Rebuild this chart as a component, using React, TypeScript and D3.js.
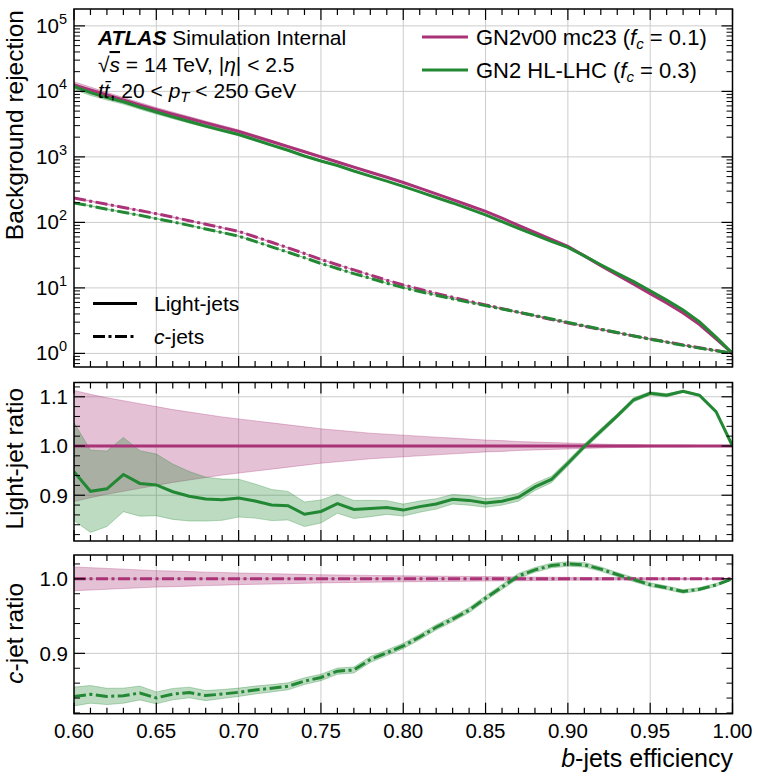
import React from 'react';
import * as d3 from 'd3';

// ---------------- data ----------------
const eff = [0.60, 0.61, 0.62, 0.63, 0.64, 0.65, 0.66, 0.67, 0.68, 0.69, 0.70, 0.71, 0.72, 0.73, 0.74, 0.75, 0.76, 0.77, 0.78, 0.79, 0.80, 0.81, 0.82, 0.83, 0.84, 0.85, 0.86, 0.87, 0.88, 0.89, 0.90, 0.91, 0.92, 0.93, 0.94, 0.95, 0.96, 0.97, 0.98, 0.99, 1.00];

// GN2v00 mc23 (reference)
const lightRejRef = [12589, 10520, 8810, 7380, 6210, 5250, 4500, 3860, 3310, 2850, 2455, 2056, 1718, 1435, 1197, 1000, 836, 698, 583, 488, 407, 333, 272, 222, 181, 147, 116, 90.2, 70.1, 55.0, 43.1, 30.8, 21.9, 15.7, 11.4, 8.18, 5.89, 4.15, 2.75, 1.66, 1.00];
const cRejRef = [235.5, 210.9, 188.8, 169.0, 151.4, 135.8, 120.2, 106.2, 93.8, 82.8, 72.9, 60.3, 49.7, 40.9, 33.5, 27.2, 22.6, 18.8, 15.7, 13.1, 11.1, 9.55, 8.26, 7.18, 6.28, 5.50, 4.83, 4.24, 3.74, 3.30, 2.92, 2.59, 2.31, 2.07, 1.85, 1.66, 1.50, 1.35, 1.22, 1.11, 1.00];

// GN2 HL-LHC
const lightRejNew = [11934, 9552, 8044, 6952, 5738, 4835, 4082, 3466, 2953, 2539, 2195, 1826, 1512, 1261, 1031, 867, 738, 608, 509, 427, 354, 292, 240, 198, 161, 130, 103, 80.82, 64.28, 51.26, 41.59, 30.77, 22.56, 16.66, 12.47, 9.055, 6.497, 4.611, 3.033, 1.776, 1.00];
const cRejNew = [198.3, 178.2, 159.0, 142.5, 128.2, 114.1, 101.6, 90.0, 79.1, 70.0, 61.8, 51.3, 42.4, 35.0, 28.9, 23.6, 19.8, 16.5, 14.0, 11.8, 10.1, 8.805, 7.723, 6.792, 6.016, 5.357, 4.777, 4.257, 3.785, 3.359, 2.978, 2.639, 2.340, 2.082, 1.848, 1.647, 1.482, 1.327, 1.203, 1.101, 1.00];

// relative statistical uncertainties
const lightErrRef = [0.113, 0.105, 0.098, 0.092, 0.086, 0.080, 0.074, 0.069, 0.064, 0.059, 0.055, 0.051, 0.047, 0.043, 0.039, 0.035, 0.032, 0.029, 0.026, 0.024, 0.022, 0.020, 0.018, 0.016, 0.014, 0.012, 0.011, 0.009, 0.008, 0.007, 0.006, 0.005, 0.004, 0.003, 0.003, 0.002, 0.002, 0.002, 0.001, 0.001, 0.0];
const lightErrNew = [0.105, 0.092, 0.084, 0.080, 0.072, 0.068, 0.062, 0.056, 0.050, 0.047, 0.043, 0.039, 0.036, 0.033, 0.029, 0.027, 0.022, 0.021, 0.019, 0.016, 0.014, 0.013, 0.012, 0.011, 0.011, 0.010, 0.009, 0.009, 0.008, 0.007, 0.006, 0.005, 0.005, 0.004, 0.004, 0.003, 0.003, 0.002, 0.002, 0.001, 0.0];
const cErrRef = [0.016, 0.015, 0.014, 0.013, 0.012, 0.011, 0.0105, 0.0098, 0.009, 0.0085, 0.0078, 0.0074, 0.007, 0.0065, 0.006, 0.0055, 0.0052, 0.0049, 0.0046, 0.0043, 0.004, 0.0038, 0.0036, 0.0034, 0.0032, 0.003, 0.0028, 0.0026, 0.0024, 0.0022, 0.002, 0.0019, 0.0018, 0.0017, 0.0016, 0.0015, 0.0014, 0.0012, 0.001, 0.0008, 0.0];
const cErrNew = [0.015, 0.014, 0.013, 0.012, 0.011, 0.0095, 0.009, 0.0085, 0.008, 0.0072, 0.0066, 0.0062, 0.0058, 0.0055, 0.0052, 0.005, 0.0048, 0.0046, 0.0044, 0.0042, 0.004, 0.0039, 0.0038, 0.0037, 0.0036, 0.0035, 0.0034, 0.0033, 0.0032, 0.0031, 0.003, 0.003, 0.0029, 0.0028, 0.0027, 0.0026, 0.0025, 0.0024, 0.0022, 0.002, 0.0];

const xTickValues = [0.60, 0.65, 0.70, 0.75, 0.80, 0.85, 0.90, 0.95, 1.00];
const xTickLabels = ['0.60', '0.65', '0.70', '0.75', '0.80', '0.85', '0.90', '0.95', '1.00'];
const topExponents = [0, 1, 2, 3, 4, 5];
const midTicks = [0.9, 1.0, 1.1];
const midTickLabels = ['0.9', '1.0', '1.1'];
const botTicks = [0.9, 1.0];
const botTickLabels = ['0.9', '1.0'];

const seriesNames = ['GN2v00 mc23', 'GN2 HL-LHC'];
const seriesFc = ['0.1', '0.3'];

// ---------------- style ----------------
const MAG = '#AA3377';
const GRN = '#228833';
const FONT = '"Liberation Sans", Arial, Helvetica, sans-serif';
const GRID = '#cccccc';
const DASHDOT = '12,3.5,3,3.5';

const X0 = 74, X1 = 732.5;
const P1 = { top: 9, bottom: 367 };
const P2 = { top: 382.5, bottom: 541 };
const P3 = { top: 555, bottom: 713.7 };

export default function App() {
  const x = d3.scaleLinear().domain([0.6, 1.0]).range([X0, X1]);
  const yTop = d3.scaleLog().domain([0.62, 181000]).range([P1.bottom, P1.top]);
  const yMid = d3.scaleLinear().domain([0.807, 1.129]).range([P2.bottom, P2.top]);
  const yBot = d3.scaleLinear().domain([0.819, 1.032]).range([P3.bottom, P3.top]);

  const lightRatio = lightRejNew.map((v, i) => v / lightRejRef[i]);
  const cRatio = cRejNew.map((v, i) => v / cRejRef[i]);
  const ones = eff.map(() => 1);

  const line = (vals: number[], ys: any) =>
    d3.line<number>().x((_, i) => x(eff[i])).y((d) => ys(d))(vals) || '';
  const band = (vals: number[], errs: number[], ys: any) =>
    d3
      .area<number>()
      .x((_, i) => x(eff[i]))
      .y0((d, i) => ys(d * (1 - errs[i])))
      .y1((d, i) => ys(d * (1 + errs[i])))(vals) || '';

  const xMinor = d3.range(60, 101).map((i) => i / 100);

  const frameTicks = (top: number, bottom: number, yMajor: number[], yMinor: number[], key: string) => {
    const els: any[] = [];
    xMinor.forEach((v, i) => {
      const major = i % 5 === 0;
      const L = major ? 11 : 6;
      const px = x(v);
      els.push(<line key={`${key}xb${i}`} x1={px} x2={px} y1={bottom} y2={bottom - L} stroke="#000" strokeWidth={1.2} />);
      els.push(<line key={`${key}xt${i}`} x1={px} x2={px} y1={top} y2={top + L} stroke="#000" strokeWidth={1.2} />);
    });
    yMajor.forEach((py, i) => {
      els.push(<line key={`${key}yl${i}`} x1={X0} x2={X0 + 11} y1={py} y2={py} stroke="#000" strokeWidth={1.2} />);
      els.push(<line key={`${key}yr${i}`} x1={X1} x2={X1 - 11} y1={py} y2={py} stroke="#000" strokeWidth={1.2} />);
    });
    yMinor.forEach((py, i) => {
      els.push(<line key={`${key}ml${i}`} x1={X0} x2={X0 + 6} y1={py} y2={py} stroke="#000" strokeWidth={1} />);
      els.push(<line key={`${key}mr${i}`} x1={X1} x2={X1 - 6} y1={py} y2={py} stroke="#000" strokeWidth={1} />);
    });
    return els;
  };

  const gridX = (top: number, bottom: number, key: string) =>
    xTickValues.slice(1, -1).map((v, i) => (
      <line key={`${key}gx${i}`} x1={x(v)} x2={x(v)} y1={top} y2={bottom} stroke={GRID} strokeWidth={1} />
    ));

  // top panel ticks
  const topMajorY = topExponents.map((e) => yTop(Math.pow(10, e)));
  const topMinorY: number[] = [];
  for (let e = -1; e <= 5; e++) {
    for (let k = 2; k <= 9; k++) {
      const v = k * Math.pow(10, e);
      const py = yTop(v);
      if (py > P1.top + 0.5 && py < P1.bottom - 0.5) topMinorY.push(py);
    }
  }
  const midMinorY = d3.range(82, 113, 2).map((v) => v / 100).filter((v) => Math.abs(v * 10 - Math.round(v * 10)) > 1e-6).map((v) => yMid(v));
  const botMinorY = d3.range(82, 104, 2).map((v) => v / 100).filter((v) => Math.abs(v * 10 - Math.round(v * 10)) > 1e-6).map((v) => yBot(v));

  return (
    <svg width={759} height={777} style={{ position: 'absolute', left: 0, top: 0, background: '#fff' }} fontFamily={FONT}>
      <defs>
        <clipPath id="c1"><rect x={X0} y={P1.top} width={X1 - X0} height={P1.bottom - P1.top} /></clipPath>
        <clipPath id="c2"><rect x={X0} y={P2.top} width={X1 - X0} height={P2.bottom - P2.top} /></clipPath>
        <clipPath id="c3"><rect x={X0} y={P3.top} width={X1 - X0} height={P3.bottom - P3.top} /></clipPath>
      </defs>
      <rect x={0} y={0} width={759} height={777} fill="#fff" />

      {/* ---------- top panel ---------- */}
      <g>
        {gridX(P1.top, P1.bottom, 't')}
        {topMajorY.map((py, i) => (
          <line key={`tgy${i}`} x1={X0} x2={X1} y1={py} y2={py} stroke={GRID} strokeWidth={1} />
        ))}
        <g clipPath="url(#c1)">
          <path d={band(lightRejRef, lightErrRef, yTop)} fill={MAG} fillOpacity={0.3} stroke={MAG} strokeOpacity={0.3} strokeWidth={1} />
          <path d={band(lightRejNew, lightErrNew, yTop)} fill={GRN} fillOpacity={0.3} stroke={GRN} strokeOpacity={0.3} strokeWidth={1} />
          <path d={band(cRejRef, cErrRef, yTop)} fill={MAG} fillOpacity={0.3} stroke={MAG} strokeOpacity={0.3} strokeWidth={1} />
          <path d={band(cRejNew, cErrNew, yTop)} fill={GRN} fillOpacity={0.3} stroke={GRN} strokeOpacity={0.3} strokeWidth={1} />
          <path d={line(lightRejRef, yTop)} fill="none" stroke={MAG} strokeWidth={3} />
          <path d={line(lightRejNew, yTop)} fill="none" stroke={GRN} strokeWidth={3} />
          <path d={line(cRejRef, yTop)} fill="none" stroke={MAG} strokeWidth={3} strokeDasharray={DASHDOT} />
          <path d={line(cRejNew, yTop)} fill="none" stroke={GRN} strokeWidth={3} strokeDasharray={DASHDOT} />
        </g>
        {frameTicks(P1.top, P1.bottom, topMajorY, topMinorY, 't')}
        <rect x={X0} y={P1.top} width={X1 - X0} height={P1.bottom - P1.top} fill="none" stroke="#000" strokeWidth={1.5} />
        {topExponents.map((e, i) => (
          <text key={`tl${i}`} x={67} y={topMajorY[i] + 7} textAnchor="end" fontSize={20.5}>
            10<tspan dy={-9} fontSize={14.5}>{e}</tspan>
          </text>
        ))}
        {/* ATLAS label */}
        <text x={98} y={45} fontSize={21}>
          <tspan fontWeight="bold" fontStyle="italic">ATLAS</tspan>
          <tspan> Simulation Internal</tspan>
        </text>
        <text x={98} y={72} fontSize={21}>
          <tspan>√</tspan>
          <tspan fontStyle="italic" style={{ textDecoration: 'overline' }}>s</tspan>
          <tspan> = 14 TeV, |</tspan>
          <tspan fontStyle="italic">η</tspan>
          <tspan>| &lt; 2.5</tspan>
        </text>
        <text x={98} y={98} fontSize={21}>
          <tspan fontStyle="italic">t{'t\u0304'}</tspan>
          <tspan>, 20 &lt; </tspan>
          <tspan fontStyle="italic">p</tspan>
          <tspan fontStyle="italic" fontSize={15} dy={4}>T</tspan>
          <tspan dy={-4}> &lt; 250 GeV</tspan>
        </text>
        {/* series legend */}
        {seriesNames.map((name, i) => {
          const ly = 37 + i * 33;
          return (
            <g key={`lg${i}`}>
              <line x1={422} x2={468} y1={ly} y2={ly} stroke={i === 0 ? MAG : GRN} strokeWidth={3} />
              <text x={476} y={ly + 7.5} fontSize={22}>
                <tspan>{name} (</tspan>
                <tspan fontStyle="italic">f</tspan>
                <tspan fontStyle="italic" fontSize={15} dy={4}>c</tspan>
                <tspan dy={-4}> = {seriesFc[i]})</tspan>
              </text>
            </g>
          );
        })}
        {/* flavour legend */}
        <line x1={93} x2={137} y1={303.5} y2={303.5} stroke="#000" strokeWidth={3} />
        <text x={154} y={311} fontSize={21}>Light-jets</text>
        <line x1={93} x2={137} y1={336.5} y2={336.5} stroke="#000" strokeWidth={3} strokeDasharray={DASHDOT} />
        <text x={154} y={344} fontSize={21}>
          <tspan fontStyle="italic">c</tspan>-jets
        </text>
        <text transform="translate(23,10) rotate(-90)" textAnchor="end" fontSize={24.5}>Background rejection</text>
      </g>

      {/* ---------- middle panel (light-jet ratio) ---------- */}
      <g>
        {gridX(P2.top, P2.bottom, 'm')}
        {midTicks.map((v, i) => (
          <line key={`mgy${i}`} x1={X0} x2={X1} y1={yMid(v)} y2={yMid(v)} stroke={GRID} strokeWidth={1} />
        ))}
        <g clipPath="url(#c2)">
          <path d={band(ones, lightErrRef, yMid)} fill={MAG} fillOpacity={0.3} stroke={MAG} strokeOpacity={0.3} strokeWidth={1} />
          <path d={band(lightRatio, lightErrNew, yMid)} fill={GRN} fillOpacity={0.3} stroke={GRN} strokeOpacity={0.3} strokeWidth={1} />
          <path d={line(ones, yMid)} fill="none" stroke={MAG} strokeWidth={3} />
          <path d={line(lightRatio, yMid)} fill="none" stroke={GRN} strokeWidth={3} />
        </g>
        {frameTicks(P2.top, P2.bottom, midTicks.map((v) => yMid(v)), midMinorY, 'm')}
        <rect x={X0} y={P2.top} width={X1 - X0} height={P2.bottom - P2.top} fill="none" stroke="#000" strokeWidth={1.5} />
        {midTicks.map((v, i) => (
          <text key={`ml${i}`} x={68} y={yMid(v) + 7.3} textAnchor="end" fontSize={20.5}>{midTickLabels[i]}</text>
        ))}
        <text transform={`translate(23,${(P2.top + P2.bottom) / 2 - 3}) rotate(-90)`} textAnchor="middle" fontSize={24.5}>Light-jet ratio</text>
      </g>

      {/* ---------- bottom panel (c-jet ratio) ---------- */}
      <g>
        {gridX(P3.top, P3.bottom, 'b')}
        {botTicks.map((v, i) => (
          <line key={`bgy${i}`} x1={X0} x2={X1} y1={yBot(v)} y2={yBot(v)} stroke={GRID} strokeWidth={1} />
        ))}
        <g clipPath="url(#c3)">
          <path d={band(ones, cErrRef, yBot)} fill={MAG} fillOpacity={0.3} stroke={MAG} strokeOpacity={0.3} strokeWidth={1} />
          <path d={band(cRatio, cErrNew, yBot)} fill={GRN} fillOpacity={0.3} stroke={GRN} strokeOpacity={0.3} strokeWidth={1} />
          <path d={line(ones, yBot)} fill="none" stroke={MAG} strokeWidth={3} strokeDasharray={DASHDOT} />
          <path d={line(cRatio, yBot)} fill="none" stroke={GRN} strokeWidth={3} strokeDasharray={DASHDOT} />
        </g>
        {frameTicks(P3.top, P3.bottom, botTicks.map((v) => yBot(v)), botMinorY, 'b')}
        <rect x={X0} y={P3.top} width={X1 - X0} height={P3.bottom - P3.top} fill="none" stroke="#000" strokeWidth={1.5} />
        {botTicks.map((v, i) => (
          <text key={`bl${i}`} x={68} y={yBot(v) + 7.3} textAnchor="end" fontSize={20.5}>{botTickLabels[i]}</text>
        ))}
        <text transform={`translate(23,${(P3.top + P3.bottom) / 2 - 1}) rotate(-90)`} textAnchor="middle" fontSize={24.5}>
          <tspan fontStyle="italic">c</tspan>-jet ratio
        </text>
        {xTickValues.map((v, i) => (
          <text key={`xl${i}`} x={x(v)} y={738} textAnchor="middle" fontSize={20.5}>{xTickLabels[i]}</text>
        ))}
        <text x={733} y={767} textAnchor="end" fontSize={25}>
          <tspan fontStyle="italic">b</tspan>-jets efficiency
        </text>
      </g>
    </svg>
  );
}
